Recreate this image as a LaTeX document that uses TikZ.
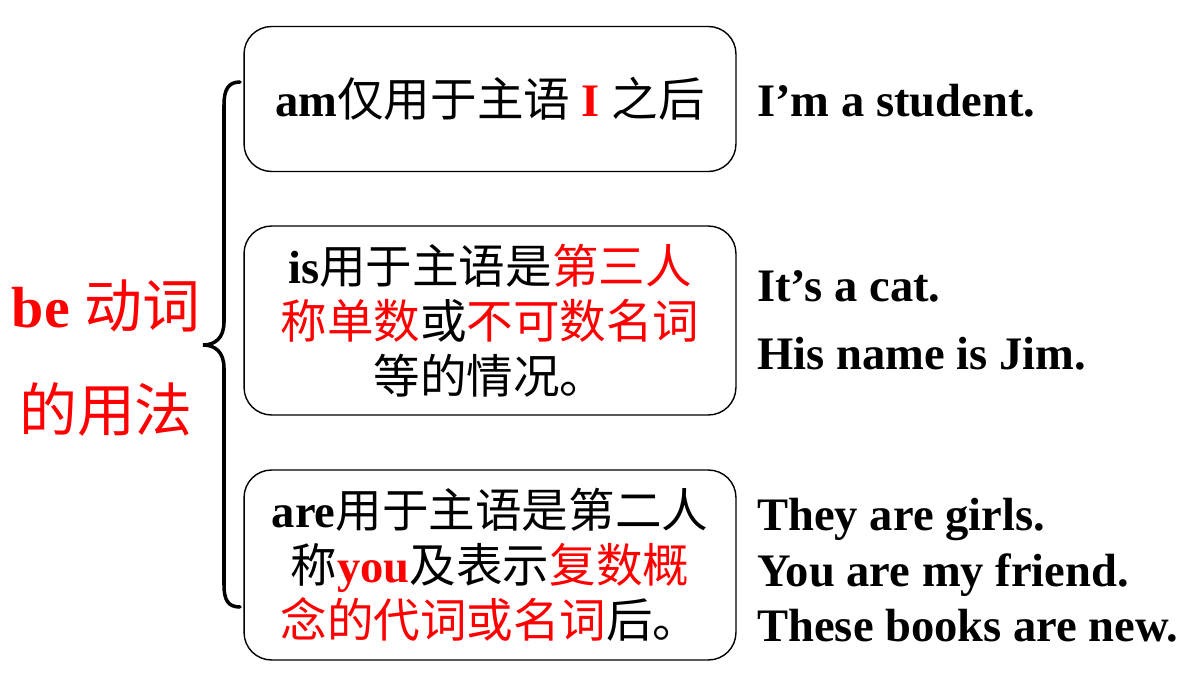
\documentclass[tikz,border=0pt]{standalone}
\usepackage{fontspec}
\setmainfont{Liberation Serif}
\newfontfamily\cjk{Noto Sans CJK SC}
\definecolor{hired}{HTML}{FF0000}
\newcommand\zhs[1]{{\cjk\mdseries #1}}
\newcommand\hr[1]{\textcolor{hired}{#1}}
\tikzset{
  ubox/.style={draw=black, line width=0.8pt, rounded corners=0.55cm, minimum width=9.84cm,
    inner sep=0pt, align=center, font=\fontsize{26.5}{31.2}\selectfont},
  eg/.style={anchor=base west, inner sep=0pt, font=\fontsize{26.5}{30}\selectfont\bfseries},
  bracepath/.style={line width=2pt, line cap=round, draw=black}
}
\begin{document}
\begin{tikzpicture}[x=0.02cm,y=-0.02cm]
\path[fill=white] (0,0) rectangle (1200,675);
\useasboundingbox (0,0) rectangle (1200,675);

\node[ubox, minimum height=2.9cm] (b1) at (490,99) {\textbf{am}\zhs{仅用于主语} \hr{\textbf{I}} \zhs{之后}};
\node[ubox, minimum height=3.78cm] (b2) at (490,320.5) {\textbf{is}\zhs{用于主语是\hr{第三人}}\\\zhs{\hr{称单数}或\hr{不可数名词}}\\\zhs{等的情况。}};
\node[ubox, minimum height=3.8cm] (b3) at (490,565) {\textbf{are}\zhs{用于主语是第二人}\\\zhs{称}\hr{\textbf{you}}\zhs{及表示\hr{复数概}}\\\zhs{\hr{念的代词或名词}后。}};

\node[align=center, inner sep=0pt, text=hired, font=\fontsize{33}{59.5}\selectfont] (lt) at (106,358) {\textbf{be} \zhs{动词}\\\zhs{的用法}};

\coordinate (bt) at (240,82);
\coordinate (bm) at (203,345);
\coordinate (bb) at (240,607);
\draw[bracepath] (bt) .. controls (228,82) and (224,90) .. (224,105) -- (224,322)
  .. controls (224,338) and (215,345) .. (bm)
  .. controls (215,345) and (224,352) .. (224,368) -- (224,585)
  .. controls (224,600) and (228,607) .. (bb);

\node[eg] (e1) at (757,117) {I’m a student.};
\node[eg] (e2) at (757,302) {It’s a cat.};
\node[eg] (e3) at (757,370) {His name is Jim.};
\node[eg] (e4) at (757,530) {They are girls.};
\node[eg] (e5) at (757,586) {You are my friend.};
\node[eg] (e6) at (757,641) {These books are new.};
\end{tikzpicture}
\end{document}
